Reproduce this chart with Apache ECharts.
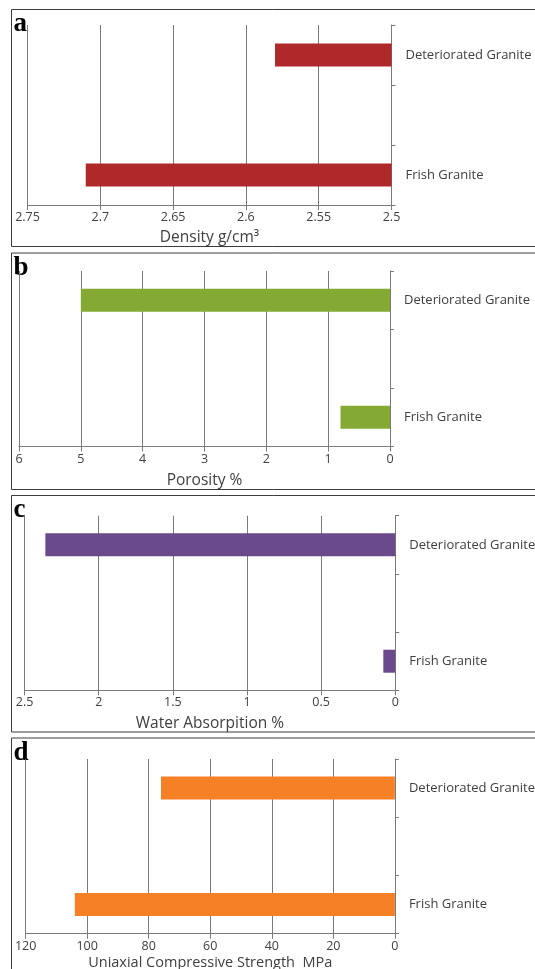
<!DOCTYPE html>
<html>
<head>
<meta charset="utf-8">
<script src="https://cdn.jsdelivr.net/npm/echarts@6/dist/echarts.min.js"></script>
<style>
html,body{margin:0;padding:0;background:#fff;}
#chart{width:535px;height:969px;}
</style>
</head>
<body>
<div id="chart"></div>
<script>
// ---- data ----
const categories = ['Frish Granite', '', 'Deteriorated Granite'];
const densityValues = [2.71, null, 2.58];
const porosityValues = [0.8, null, 5.0];
const waterAbsorptionValues = [0.08, null, 2.36];
const ucsValues = [104, null, 76];

const densityTicks = {min: 2.5, max: 2.75, interval: 0.05};
const porosityTicks = {min: 0, max: 6, interval: 1};
const waterTicks = {min: 0, max: 2.5, interval: 0.5};
const ucsTicks = {min: 0, max: 120, interval: 20};

const panelLetters = ['a', 'b', 'c', 'd'];
const axisNames = ['Density g/cm\u00B3', 'Porosity %', 'Water Absorpition %', 'Uniaxial Compressive Strength  MPa'];

// ---- layout ----
const FONT = '"Open Sans", "Noto Sans", sans-serif';
const TXT = '#404040';
const GRID_C = '#7a7a7a';
const panels = [
  {box: [11, 9, 540, 237], grid: {left: 27.5, top: 25, width: 364, height: 180}, nameGap: 25, nameSize: 15.5, color: '#B0292A', values: densityValues, ticks: densityTicks},
  {box: [11, 252.5, 540, 236.5], grid: {left: 19, top: 271, width: 371, height: 175.5}, nameGap: 26, nameSize: 15.5, color: '#84AA33', values: porosityValues, ticks: porosityTicks},
  {box: [11, 495, 540, 236.5], grid: {left: 24.6, top: 515.7, width: 370.6, height: 174.6}, nameGap: 25, nameSize: 15.5, color: '#6B4A8B', values: waterAbsorptionValues, ticks: waterTicks},
  {box: [11, 737.5, 540, 260], grid: {left: 25.6, top: 759, width: 369.3, height: 174.7}, nameGap: 22, nameSize: 14.5, color: '#F58025', values: ucsValues, ticks: ucsTicks}
];

const chart = echarts.init(document.getElementById('chart'), null, {renderer: 'canvas'});

const grids = [], xAxes = [], yAxes = [], series = [], graphics = [];
panels.forEach((p, i) => {
  grids.push(Object.assign({containLabel: false, outerBoundsMode: 'none'}, p.grid));
  xAxes.push({
    type: 'value', gridIndex: i, inverse: true,
    min: p.ticks.min, max: p.ticks.max, interval: p.ticks.interval,
    name: axisNames[i], nameLocation: 'middle', nameGap: p.nameGap,
    nameTextStyle: {fontFamily: FONT, fontSize: p.nameSize, color: TXT},
    axisLine: {show: true, lineStyle: {color: GRID_C, width: 1}},
    axisTick: {show: true, length: 5, lineStyle: {color: GRID_C}},
    axisLabel: {margin: 6, fontFamily: FONT, fontSize: 12.5, color: TXT,
      formatter: v => String(parseFloat(Number(v).toFixed(2)))},
    splitLine: {show: true, lineStyle: {color: GRID_C, width: 1}}
  });
  yAxes.push({
    type: 'category', gridIndex: i, position: 'right', data: categories,
    axisLine: {show: true, lineStyle: {color: GRID_C, width: 1}},
    axisTick: {show: true, length: 4, lineStyle: {color: GRID_C}},
    axisLabel: {margin: 14, fontFamily: FONT, fontSize: 13, color: TXT},
    splitLine: {show: false}
  });
  series.push({
    type: 'bar', xAxisIndex: i, yAxisIndex: i, data: p.values,
    barWidth: 23, clip: true, itemStyle: {color: p.color}, silent: true
  });
  graphics.push({
    type: 'rect', shape: {x: p.box[0] + 0.5, y: p.box[1] + 0.5, width: p.box[2], height: p.box[3]},
    style: {fill: null, stroke: '#3c3c3c', lineWidth: 1}, silent: true
  });
  graphics.push({
    type: 'text', x: 13.5, y: p.box[1] + 29,
    style: {text: panelLetters[i], font: 'bold 27px "Liberation Serif", serif', fill: '#000', verticalAlign: 'bottom', align: 'left'},
    silent: true
  });
});

chart.setOption({
  animation: false,
  backgroundColor: '#fff',
  grid: grids,
  xAxis: xAxes,
  yAxis: yAxes,
  series: series,
  graphic: graphics
});
</script>
</body>
</html>
